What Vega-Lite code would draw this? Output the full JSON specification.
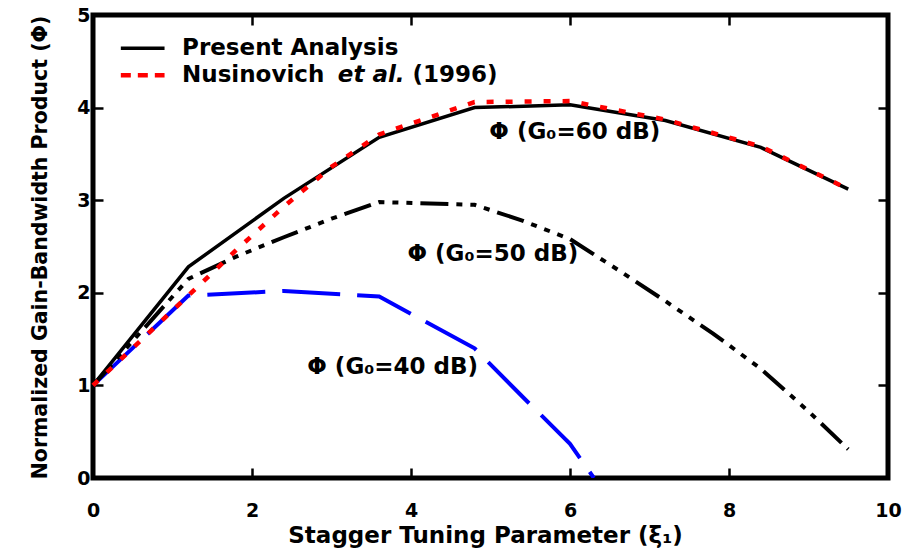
{
  "$schema": "https://vega.github.io/schema/vega-lite/v6.json",
  "width": 795,
  "height": 463,
  "autosize": {"type": "none"},
  "padding": {"left": 93, "top": 15, "right": 21, "bottom": 70},
  "background": "white",
  "config": {
    "view": {"stroke": "black", "strokeWidth": 5},
    "axis": {
      "domain": false,
      "grid": false,
      "ticks": true,
      "tickSize": -10,
      "tickWidth": 2.5,
      "tickColor": "black",
      "labelFlush": false,
      "labelFont": "DejaVu Sans",
      "labelFontWeight": "bold",
      "labelFontSize": 19,
      "labelColor": "black",
      "titleFont": "DejaVu Sans",
      "titleFontWeight": "bold",
      "titleColor": "black"
    }
  },
  "datasets": {
    "curves": [
      {"series": "present", "xi": 0, "phi": 1},
      {"series": "present", "xi": 1.2, "phi": 2.28},
      {"series": "present", "xi": 2.4, "phi": 3.02},
      {"series": "present", "xi": 3.6, "phi": 3.68},
      {"series": "present", "xi": 4.8, "phi": 4.0},
      {"series": "present", "xi": 6.0, "phi": 4.03},
      {"series": "present", "xi": 7.2, "phi": 3.86},
      {"series": "present", "xi": 8.4, "phi": 3.57},
      {"series": "present", "xi": 9.5, "phi": 3.12},
      {"series": "nusinovich", "xi": 0, "phi": 1},
      {"series": "nusinovich", "xi": 1.2, "phi": 1.97},
      {"series": "nusinovich", "xi": 1.8, "phi": 2.46},
      {"series": "nusinovich", "xi": 2.4, "phi": 2.93},
      {"series": "nusinovich", "xi": 3.0, "phi": 3.36},
      {"series": "nusinovich", "xi": 3.6, "phi": 3.71},
      {"series": "nusinovich", "xi": 4.8, "phi": 4.06},
      {"series": "nusinovich", "xi": 6.0, "phi": 4.07},
      {"series": "nusinovich", "xi": 7.2, "phi": 3.87},
      {"series": "nusinovich", "xi": 8.4, "phi": 3.58},
      {"series": "nusinovich", "xi": 9.5, "phi": 3.12},
      {"series": "g50", "xi": 0, "phi": 1},
      {"series": "g50", "xi": 1.2, "phi": 2.15},
      {"series": "g50", "xi": 1.8, "phi": 2.39},
      {"series": "g50", "xi": 2.4, "phi": 2.6},
      {"series": "g50", "xi": 3.0, "phi": 2.8},
      {"series": "g50", "xi": 3.6, "phi": 2.98},
      {"series": "g50", "xi": 4.8, "phi": 2.95},
      {"series": "g50", "xi": 5.4, "phi": 2.78},
      {"series": "g50", "xi": 6.0, "phi": 2.58},
      {"series": "g50", "xi": 6.6, "phi": 2.25},
      {"series": "g50", "xi": 7.2, "phi": 1.91},
      {"series": "g50", "xi": 7.8, "phi": 1.56},
      {"series": "g50", "xi": 8.4, "phi": 1.18},
      {"series": "g50", "xi": 9.0, "phi": 0.72},
      {"series": "g50", "xi": 9.5, "phi": 0.31},
      {"series": "g40", "xi": 0, "phi": 1},
      {"series": "g40", "xi": 1.2, "phi": 1.97},
      {"series": "g40", "xi": 2.4, "phi": 2.02},
      {"series": "g40", "xi": 3.6, "phi": 1.96},
      {"series": "g40", "xi": 4.8, "phi": 1.4},
      {"series": "g40", "xi": 5.4, "phi": 0.88},
      {"series": "g40", "xi": 6.0, "phi": 0.37},
      {"series": "g40", "xi": 6.3, "phi": 0}
    ],
    "keys": [
      {"series": "present", "xi": 0.35, "xi2": 0.9, "phi": 4.64},
      {"series": "nusinovich", "xi": 0.35, "xi2": 0.9, "phi": 4.35}
    ],
    "keyText": [
      {"part": "plain", "text": "Present Analysis", "xi": 1.12, "phi": 4.64},
      {"part": "plain", "text": "Nusinovich", "xi": 1.12, "phi": 4.35},
      {"part": "italic", "text": "et al.", "xi": 3.08, "phi": 4.35},
      {"part": "plain", "text": "(1996)", "xi": 4.02, "phi": 4.35}
    ],
    "curveLabels": [
      {"text": "Φ (G₀=60 dB)", "xi": 6.06, "phi": 3.74},
      {"text": "Φ (G₀=50 dB)", "xi": 5.03, "phi": 2.42},
      {"text": "Φ (G₀=40 dB)", "xi": 3.77, "phi": 1.2}
    ]
  },
  "resolve": {"axis": {"x": "independent", "y": "independent"}},
  "layer": [
    {
      "data": {"name": "curves"},
      "transform": [{"filter": "datum.series === 'g40'"}],
      "mark": {"type": "line", "color": "#0000ff", "strokeWidth": 4, "strokeDash": [58, 17], "clip": true},
      "encoding": {
        "x": {
          "field": "xi", "type": "quantitative",
          "scale": {"domain": [0, 10], "nice": false, "zero": false},
          "axis": {
            "orient": "bottom", "values": [0, 2, 4, 6, 8, 10], "format": "d",
            "labelPadding": 33, "labelBaseline": "top",
            "title": "Stagger Tuning Parameter (ξ₁)", "titleFontSize": 23,
            "titleBaseline": "alphabetic", "titleX": 392, "titleY": 64
          }
        },
        "y": {
          "field": "phi", "type": "quantitative",
          "scale": {"domain": [0, 5], "nice": false},
          "axis": {
            "orient": "left", "values": [0, 1, 2, 3, 4, 5], "format": "d",
            "labelPadding": 13,
            "title": "Normalized Gain-Bandwidth Product (Φ)", "titleFontSize": 20.5,
            "titleAngle": -90, "titleBaseline": "alphabetic", "titleAlign": "center",
            "titleX": -47, "titleY": 232
          }
        },
        "order": {"field": "xi", "type": "quantitative"}
      }
    },
    {
      "data": {"name": "curves"},
      "transform": [{"filter": "datum.series === 'g50'"}],
      "mark": {"type": "line", "color": "black", "strokeWidth": 4, "strokeDash": [28, 8, 6, 8, 6, 8, 6, 8]},
      "encoding": {
        "x": {
          "field": "xi", "type": "quantitative",
          "axis": {"orient": "top", "values": [2, 4, 6, 8], "labels": false, "title": null}
        },
        "y": {
          "field": "phi", "type": "quantitative",
          "axis": {"orient": "right", "values": [1, 2, 3, 4], "labels": false, "title": null}
        },
        "order": {"field": "xi", "type": "quantitative"}
      }
    },
    {
      "data": {"name": "curves"},
      "transform": [{"filter": "datum.series === 'present'"}],
      "mark": {"type": "line", "color": "black", "strokeWidth": 3.5},
      "encoding": {
        "x": {"field": "xi", "type": "quantitative", "axis": null},
        "y": {"field": "phi", "type": "quantitative", "axis": null},
        "order": {"field": "xi", "type": "quantitative"}
      }
    },
    {
      "data": {"name": "curves"},
      "transform": [{"filter": "datum.series === 'nusinovich'"}],
      "mark": {"type": "line", "color": "#ff0000", "strokeWidth": 4.5, "strokeDash": [7, 12]},
      "encoding": {
        "x": {"field": "xi", "type": "quantitative", "axis": null},
        "y": {"field": "phi", "type": "quantitative", "axis": null},
        "order": {"field": "xi", "type": "quantitative"}
      }
    },
    {
      "data": {"name": "keys"},
      "transform": [{"filter": "datum.series === 'present'"}],
      "mark": {"type": "rule", "color": "black", "strokeWidth": 3.5},
      "encoding": {
        "x": {"field": "xi", "type": "quantitative", "axis": null},
        "x2": {"field": "xi2"},
        "y": {"field": "phi", "type": "quantitative", "axis": null}
      }
    },
    {
      "data": {"name": "keys"},
      "transform": [{"filter": "datum.series === 'nusinovich'"}],
      "mark": {"type": "rule", "color": "#ff0000", "strokeWidth": 4.5, "strokeDash": [10, 7]},
      "encoding": {
        "x": {"field": "xi", "type": "quantitative", "axis": null},
        "x2": {"field": "xi2"},
        "y": {"field": "phi", "type": "quantitative", "axis": null}
      }
    },
    {
      "data": {"name": "keyText"},
      "transform": [{"filter": "datum.part === 'plain'"}],
      "mark": {"type": "text", "align": "left", "baseline": "middle", "font": "DejaVu Sans", "fontWeight": "bold", "fontSize": 23, "color": "black"},
      "encoding": {
        "x": {"field": "xi", "type": "quantitative", "axis": null},
        "y": {"field": "phi", "type": "quantitative", "axis": null},
        "text": {"field": "text"}
      }
    },
    {
      "data": {"name": "keyText"},
      "transform": [{"filter": "datum.part === 'italic'"}],
      "mark": {"type": "text", "align": "left", "baseline": "middle", "font": "DejaVu Sans", "fontWeight": "bold", "fontStyle": "italic", "fontSize": 23, "color": "black"},
      "encoding": {
        "x": {"field": "xi", "type": "quantitative", "axis": null},
        "y": {"field": "phi", "type": "quantitative", "axis": null},
        "text": {"field": "text"}
      }
    },
    {
      "data": {"name": "curveLabels"},
      "mark": {"type": "text", "align": "center", "baseline": "middle", "font": "DejaVu Sans", "fontWeight": "bold", "fontSize": 23, "color": "black"},
      "encoding": {
        "x": {"field": "xi", "type": "quantitative", "axis": null},
        "y": {"field": "phi", "type": "quantitative", "axis": null},
        "text": {"field": "text"}
      }
    }
  ]
}
